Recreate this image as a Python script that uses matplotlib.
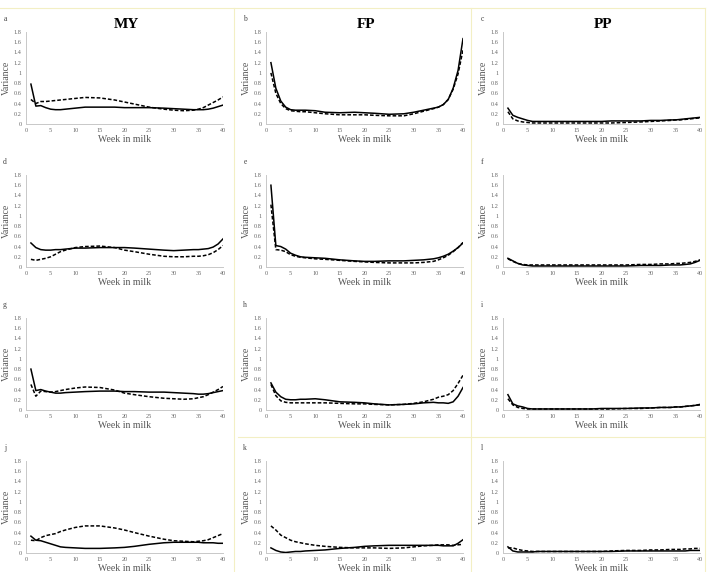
import matplotlib
matplotlib.use('Agg')
import matplotlib.pyplot as plt
from matplotlib.lines import Line2D

plt.rcParams['font.family'] = ['Liberation Serif', 'DejaVu Serif']

W, H = 709, 572

weeks = [1, 2, 3, 4, 5, 6, 7, 8, 10, 12, 15, 18, 20, 22, 25, 28, 30, 32, 34, 35, 36, 37, 38, 39, 40]

# MY
a_solid = [0.78, 0.35, 0.36, 0.32, 0.29, 0.28, 0.28, 0.29, 0.31, 0.33, 0.33, 0.33, 0.32, 0.32, 0.32, 0.31, 0.30, 0.29, 0.28, 0.28, 0.28, 0.29, 0.31, 0.34, 0.37]
a_dash = [0.48, 0.40, 0.44, 0.44, 0.45, 0.46, 0.47, 0.48, 0.50, 0.52, 0.51, 0.47, 0.43, 0.39, 0.33, 0.29, 0.27, 0.26, 0.27, 0.29, 0.32, 0.37, 0.42, 0.47, 0.53]
d_solid = [0.47, 0.38, 0.34, 0.33, 0.33, 0.34, 0.34, 0.35, 0.37, 0.37, 0.38, 0.38, 0.38, 0.37, 0.35, 0.33, 0.32, 0.33, 0.34, 0.34, 0.35, 0.36, 0.39, 0.45, 0.55]
d_dash = [0.15, 0.13, 0.15, 0.17, 0.20, 0.25, 0.30, 0.33, 0.38, 0.40, 0.41, 0.38, 0.33, 0.30, 0.25, 0.21, 0.20, 0.20, 0.21, 0.21, 0.22, 0.24, 0.28, 0.34, 0.42]
g_solid = [0.80, 0.38, 0.40, 0.37, 0.35, 0.33, 0.33, 0.34, 0.35, 0.36, 0.37, 0.37, 0.36, 0.36, 0.35, 0.35, 0.34, 0.33, 0.32, 0.31, 0.31, 0.32, 0.34, 0.36, 0.38]
g_dash = [0.50, 0.27, 0.37, 0.36, 0.35, 0.36, 0.38, 0.40, 0.43, 0.45, 0.44, 0.39, 0.33, 0.30, 0.26, 0.23, 0.22, 0.21, 0.22, 0.24, 0.26, 0.30, 0.35, 0.40, 0.46]
j_solid = [0.33, 0.25, 0.24, 0.21, 0.18, 0.15, 0.12, 0.11, 0.10, 0.09, 0.09, 0.10, 0.11, 0.13, 0.17, 0.20, 0.21, 0.21, 0.21, 0.21, 0.20, 0.20, 0.20, 0.19, 0.19]
j_dash = [0.25, 0.24, 0.30, 0.34, 0.36, 0.38, 0.42, 0.45, 0.50, 0.53, 0.53, 0.49, 0.45, 0.40, 0.33, 0.27, 0.24, 0.23, 0.22, 0.23, 0.24, 0.26, 0.30, 0.34, 0.38]

# FP
b_solid = [1.20, 0.70, 0.45, 0.33, 0.28, 0.27, 0.27, 0.27, 0.26, 0.23, 0.22, 0.23, 0.22, 0.21, 0.19, 0.20, 0.23, 0.27, 0.31, 0.33, 0.38, 0.48, 0.70, 1.05, 1.67]
b_dash = [1.00, 0.60, 0.40, 0.30, 0.26, 0.25, 0.24, 0.24, 0.22, 0.20, 0.18, 0.18, 0.18, 0.17, 0.16, 0.16, 0.20, 0.25, 0.30, 0.33, 0.38, 0.48, 0.68, 0.98, 1.45]
e_solid = [1.60, 0.42, 0.40, 0.35, 0.27, 0.23, 0.20, 0.19, 0.18, 0.17, 0.14, 0.12, 0.11, 0.11, 0.12, 0.12, 0.13, 0.14, 0.16, 0.18, 0.21, 0.25, 0.31, 0.38, 0.47]
e_dash = [1.22, 0.34, 0.33, 0.30, 0.24, 0.21, 0.19, 0.18, 0.16, 0.15, 0.13, 0.11, 0.10, 0.09, 0.08, 0.08, 0.08, 0.09, 0.11, 0.14, 0.18, 0.23, 0.30, 0.38, 0.48]
h_solid = [0.53, 0.35, 0.26, 0.21, 0.20, 0.20, 0.21, 0.21, 0.22, 0.20, 0.16, 0.15, 0.14, 0.12, 0.10, 0.11, 0.12, 0.14, 0.15, 0.14, 0.14, 0.13, 0.16, 0.27, 0.44]
h_dash = [0.50, 0.28, 0.18, 0.15, 0.14, 0.14, 0.14, 0.14, 0.14, 0.14, 0.13, 0.12, 0.12, 0.11, 0.10, 0.11, 0.13, 0.16, 0.21, 0.25, 0.27, 0.30, 0.38, 0.52, 0.68]
k_solid = [0.10, 0.05, 0.02, 0.01, 0.02, 0.03, 0.03, 0.04, 0.05, 0.06, 0.09, 0.11, 0.13, 0.14, 0.15, 0.15, 0.15, 0.15, 0.15, 0.15, 0.14, 0.14, 0.14, 0.19, 0.26]
k_dash = [0.53, 0.45, 0.35, 0.30, 0.25, 0.22, 0.20, 0.18, 0.15, 0.13, 0.11, 0.10, 0.10, 0.10, 0.09, 0.10, 0.12, 0.14, 0.15, 0.16, 0.16, 0.16, 0.15, 0.16, 0.17]

# PP
c_solid = [0.31, 0.17, 0.13, 0.10, 0.07, 0.05, 0.05, 0.05, 0.05, 0.05, 0.05, 0.05, 0.05, 0.06, 0.06, 0.06, 0.07, 0.07, 0.08, 0.08, 0.09, 0.10, 0.11, 0.12, 0.13]
c_dash = [0.24, 0.10, 0.06, 0.04, 0.03, 0.02, 0.02, 0.02, 0.02, 0.02, 0.02, 0.02, 0.02, 0.02, 0.03, 0.04, 0.05, 0.06, 0.07, 0.08, 0.08, 0.09, 0.10, 0.11, 0.12]
f_solid = [0.17, 0.12, 0.07, 0.04, 0.03, 0.02, 0.02, 0.02, 0.02, 0.02, 0.02, 0.02, 0.02, 0.02, 0.02, 0.03, 0.03, 0.03, 0.04, 0.04, 0.04, 0.05, 0.06, 0.09, 0.13]
f_dash = [0.16, 0.11, 0.07, 0.05, 0.04, 0.04, 0.04, 0.04, 0.04, 0.04, 0.04, 0.04, 0.04, 0.04, 0.04, 0.05, 0.05, 0.06, 0.06, 0.07, 0.07, 0.08, 0.09, 0.11, 0.14]
i_solid = [0.30, 0.12, 0.08, 0.06, 0.03, 0.02, 0.02, 0.02, 0.02, 0.02, 0.02, 0.02, 0.03, 0.03, 0.03, 0.04, 0.04, 0.05, 0.05, 0.06, 0.06, 0.07, 0.08, 0.09, 0.11]
i_dash = [0.22, 0.10, 0.05, 0.03, 0.02, 0.02, 0.02, 0.02, 0.02, 0.02, 0.02, 0.02, 0.02, 0.02, 0.03, 0.03, 0.04, 0.05, 0.05, 0.06, 0.06, 0.07, 0.08, 0.09, 0.10]
l_solid = [0.12, 0.04, 0.02, 0.02, 0.02, 0.02, 0.03, 0.03, 0.03, 0.03, 0.03, 0.03, 0.03, 0.03, 0.04, 0.04, 0.04, 0.04, 0.04, 0.04, 0.04, 0.04, 0.05, 0.05, 0.05]
l_dash = [0.10, 0.10, 0.07, 0.05, 0.04, 0.03, 0.03, 0.03, 0.03, 0.03, 0.03, 0.03, 0.03, 0.04, 0.05, 0.05, 0.06, 0.06, 0.07, 0.07, 0.07, 0.08, 0.08, 0.09, 0.09]

traits = ['MY', 'FP', 'PP']
letters = ['a', 'b', 'c', 'd', 'e', 'f', 'g', 'h', 'i', 'j', 'k', 'l']
panels = [(a_solid, a_dash), (b_solid, b_dash), (c_solid, c_dash),
          (d_solid, d_dash), (e_solid, e_dash), (f_solid, f_dash),
          (g_solid, g_dash), (h_solid, h_dash), (i_solid, i_dash),
          (j_solid, j_dash), (k_solid, k_dash), (l_solid, l_dash)]

x_ticks = [0, 5, 10, 15, 20, 25, 30, 35, 40]
y_ticks = [0, 0.2, 0.4, 0.6, 0.8, 1, 1.2, 1.4, 1.6, 1.8]
y_labels = ['0', '0.2', '0.4', '0.6', '0.8', '1', '1.2', '1.4', '1.6', '1.8']

col_left = [26, 266, 503]
row_top = [32, 175, 318, 461]
AW, AH = 197, 92

fig = plt.figure(figsize=(W / 100, H / 100), dpi=100)

# faint panel frames from the original composite
frame = '#f3efc4'
for xs, ys in [((0, 705), (8, 8)), ((234, 234), (8, 572)), ((471, 471), (8, 572)),
               ((705, 705), (8, 572)), ((238, 705), (437, 437))]:
    fig.add_artist(Line2D([x / W for x in xs], [1 - y / H for y in ys],
                          color=frame, lw=0.8, transform=fig.transFigure))

for idx, (solid, dash) in enumerate(panels):
    r, c = divmod(idx, 3)
    left, top = col_left[c], row_top[r]
    ax = fig.add_axes([left / W, 1 - (top + AH) / H, AW / W, AH / H])
    ax.plot(weeks, solid, color='black', lw=1.1)
    ax.plot(weeks, dash, color='black', lw=1.1, ls=(0, (2.4, 1.3)))
    ax.set_xlim(0, 40)
    ax.set_ylim(0, 1.8)
    ax.set_xticks(x_ticks)
    ax.set_xticklabels([str(t) for t in x_ticks])
    ax.set_yticks(y_ticks)
    ax.set_yticklabels(y_labels)
    for s in ['top', 'right']:
        ax.spines[s].set_visible(False)
    for s in ['left', 'bottom']:
        ax.spines[s].set_color('#c8c8c8')
        ax.spines[s].set_linewidth(0.7)
    ax.tick_params(axis='both', length=0, labelsize=4.5, labelcolor='#666666', pad=3)
    ax.set_xlabel('Week in milk', fontsize=7, color='#555555', labelpad=1)
    ax.set_ylabel('Variance', fontsize=7, color='#555555', labelpad=2)
    fig.text((left - 21) / W, 1 - (top - 13) / H, letters[idx], fontsize=5.5,
             color='#444444', ha='center', va='center')
    if r == 0:
        fig.text((left + AW / 2 + 2) / W, 1 - (top - 7) / H, traits[c], fontsize=11,
                 fontweight='bold', ha='center', va='center')

fig.savefig('out.png', dpi=100, facecolor='white')
